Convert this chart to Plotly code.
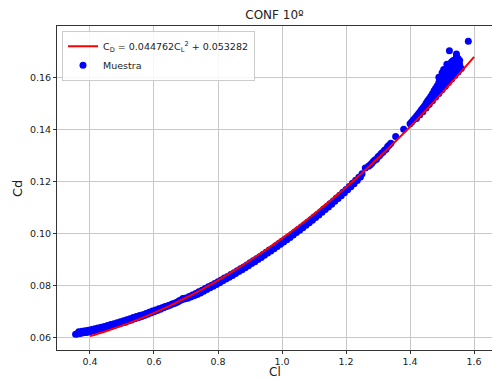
import plotly.graph_objects as go

# ---- data ----
# fitted curve (Cl, Cd)
fit_cl = [0.40, 0.45, 0.50, 0.55, 0.60, 0.65, 0.70, 0.75, 0.80, 0.85, 0.90, 0.95,
          1.00, 1.05, 1.10, 1.15, 1.20, 1.25, 1.30, 1.35, 1.40, 1.45, 1.50, 1.55, 1.60]
fit_cd = [0.060444, 0.062346, 0.064473, 0.066823, 0.069396, 0.072194, 0.075215, 0.078461,
          0.081930, 0.085623, 0.089539, 0.093680, 0.098044, 0.102632, 0.107444, 0.112480,
          0.117739, 0.123223, 0.128930, 0.134861, 0.141016, 0.147394, 0.153997, 0.160823,
          0.167873]

# sample points, main band
cl_a = [0.36, 0.37, 0.38, 0.39, 0.40, 0.41, 0.42, 0.43, 0.44, 0.45, 0.46, 0.47, 0.48, 0.49,
        0.50, 0.51, 0.52, 0.53, 0.54, 0.55, 0.56, 0.57, 0.58, 0.59, 0.60, 0.61, 0.62, 0.63,
        0.64, 0.65, 0.66, 0.67, 0.68, 0.69, 0.70, 0.71, 0.72, 0.73, 0.74, 0.75, 0.76, 0.77,
        0.78, 0.79, 0.80, 0.81, 0.82, 0.83, 0.84, 0.85, 0.86, 0.87, 0.88, 0.89, 0.90, 0.91,
        0.92, 0.93, 0.94, 0.95, 0.96, 0.97, 0.98, 0.99, 1.00, 1.01, 1.02, 1.03, 1.04, 1.05,
        1.06, 1.07, 1.08, 1.09, 1.10, 1.11, 1.12, 1.13, 1.14, 1.15, 1.16, 1.17, 1.18, 1.19,
        1.20, 1.21, 1.22, 1.23, 1.24, 1.25, 1.26, 1.27, 1.28, 1.29, 1.30, 1.31, 1.32, 1.33,
        1.34]
cd_a = [0.06128, 0.06151, 0.06175, 0.06189, 0.06214, 0.06241, 0.06278, 0.06306, 0.06335,
        0.06365, 0.06405, 0.06437, 0.06470, 0.06513, 0.06547, 0.06583, 0.06629, 0.06666,
        0.06714, 0.06752, 0.06792, 0.06843, 0.06884, 0.06936, 0.06980, 0.07034, 0.07079,
        0.07135, 0.07182, 0.07230, 0.07288, 0.07338, 0.07418, 0.07489, 0.07512, 0.07565,
        0.07629, 0.07684, 0.07749, 0.07806, 0.07874, 0.07942, 0.08002, 0.08072, 0.08133,
        0.08205, 0.08278, 0.08342, 0.08417, 0.08482, 0.08559, 0.08636, 0.08705, 0.08784,
        0.08864, 0.08945, 0.09017, 0.09100, 0.09183, 0.09268, 0.09354, 0.09430, 0.09517,
        0.09605, 0.09694, 0.09784, 0.09865, 0.09957, 0.10050, 0.10143, 0.10238, 0.10333,
        0.10429, 0.10526, 0.10624, 0.10723, 0.10823, 0.10934, 0.11036, 0.11138, 0.11241,
        0.11356, 0.11461, 0.11577, 0.11684, 0.11802, 0.11921, 0.12040, 0.12161, 0.12292,
        0.12515, 0.12578, 0.12682, 0.12817, 0.12943, 0.13070, 0.13198, 0.13336, 0.13466]

# sample points, second layer of the band
cl_b = [0.355, 0.365, 0.375, 0.385, 0.395, 0.405, 0.415, 0.425, 0.435, 0.445, 0.455, 0.465,
        0.475, 0.485, 0.495, 0.505, 0.515, 0.525, 0.535, 0.545, 0.555, 0.565, 0.575, 0.585,
        0.595, 0.605, 0.615, 0.625, 0.635, 0.645, 0.655, 0.665, 0.675, 0.685, 0.695, 0.705,
        0.715, 0.725, 0.735, 0.745, 0.755, 0.765, 0.775, 0.785, 0.795, 0.805, 0.815, 0.825,
        0.835, 0.845, 0.855, 0.865, 0.875, 0.885, 0.895, 0.905, 0.915, 0.925, 0.935, 0.945,
        0.955, 0.965, 0.975, 0.985, 0.995, 1.005, 1.015, 1.025, 1.035, 1.045, 1.055, 1.065,
        1.075, 1.085, 1.095, 1.105, 1.115, 1.125, 1.135, 1.145, 1.155, 1.165, 1.175, 1.185,
        1.195, 1.205, 1.215, 1.225, 1.235, 1.245, 1.275, 1.285, 1.295, 1.305, 1.315, 1.325,
        1.335]
cd_b = [0.06122, 0.06210, 0.06233, 0.06252, 0.06272, 0.06298, 0.06330, 0.06362, 0.06391,
        0.06420, 0.06455, 0.06491, 0.06524, 0.06562, 0.06600, 0.06635, 0.06676, 0.06718,
        0.06760, 0.06803, 0.06842, 0.06868, 0.06914, 0.06960, 0.07008, 0.07047, 0.07097,
        0.07137, 0.07189, 0.07226, 0.07269, 0.07313, 0.07368, 0.07434, 0.07470, 0.07499,
        0.07547, 0.07597, 0.07647, 0.07708, 0.07770, 0.07838, 0.07902, 0.07967, 0.08033,
        0.08099, 0.08172, 0.08240, 0.08310, 0.08380, 0.08451, 0.08528, 0.08601, 0.08675,
        0.08754, 0.08835, 0.08911, 0.08989, 0.09072, 0.09156, 0.09241, 0.09322, 0.09404,
        0.09491, 0.09580, 0.09669, 0.09755, 0.09841, 0.09934, 0.10027, 0.10121, 0.10216,
        0.10311, 0.10408, 0.10505, 0.10604, 0.10703, 0.10809, 0.10915, 0.11017, 0.11120,
        0.11229, 0.11339, 0.11449, 0.11561, 0.11673, 0.11792, 0.11911, 0.12031, 0.12167,
        0.12630, 0.12760, 0.12850, 0.12990, 0.13120, 0.13230, 0.13400]

# sample points, high-Cl region (scattered cluster)
cl_c = [1.355, 1.380, 1.400, 1.405, 1.410, 1.415, 1.420, 1.425, 1.430, 1.435, 1.440, 1.445,
        1.450, 1.455, 1.460, 1.465, 1.470, 1.475, 1.480, 1.485, 1.490, 1.495, 1.500, 1.505,
        1.510, 1.515, 1.520, 1.525, 1.530, 1.535, 1.540, 1.545, 1.550,
        1.420, 1.430, 1.440, 1.450, 1.460, 1.470, 1.480, 1.490, 1.500, 1.510, 1.520, 1.530,
        1.540, 1.550, 1.560,
        1.455, 1.465, 1.475, 1.485, 1.495, 1.505, 1.515, 1.525, 1.535, 1.545, 1.555,
        1.490, 1.500, 1.505, 1.515, 1.525, 1.535, 1.545, 1.550, 1.520, 1.530, 1.540, 1.555,
        1.523, 1.545, 1.582]
cd_c = [0.1372, 0.1400, 0.1421, 0.1428, 0.1436, 0.1443, 0.1450, 0.1458, 0.1466, 0.1474,
        0.1482, 0.1490, 0.1500, 0.1510, 0.1518, 0.1527, 0.1537, 0.1548, 0.1558, 0.1568,
        0.1580, 0.1592, 0.1603, 0.1615, 0.1626, 0.1636, 0.1645, 0.1652, 0.1660, 0.1665,
        0.1668, 0.1662, 0.1655,
        0.1442, 0.1455, 0.1468, 0.1482, 0.1496, 0.1510, 0.1524, 0.1538, 0.1552, 0.1566,
        0.1580, 0.1594, 0.1607, 0.1620, 0.1634,
        0.1494, 0.1512, 0.1530, 0.1548, 0.1566, 0.1582, 0.1598, 0.1612, 0.1626, 0.1640,
        0.1648,
        0.1600, 0.1618, 0.1630, 0.1650, 0.1640, 0.1648, 0.1680, 0.1672, 0.1628, 0.1618,
        0.1652, 0.1665,
        0.1702, 0.1690, 0.1739]

sample_cl = cl_a + cl_b + cl_c
sample_cd = cd_a + cd_b + cd_c

FONT = "DejaVu Sans"

fig = go.Figure()
fig.add_trace(go.Scatter(
    x=sample_cl, y=sample_cd, mode="markers", name="Muestra",
    marker=dict(color="#0000ff", size=7, line=dict(width=0)),
))
fig.add_trace(go.Scatter(
    x=fit_cl, y=fit_cd, mode="lines",
    name="C<sub>D</sub> = 0.044762C<sub>L</sub><sup>2</sup> + 0.053282",
    line=dict(color="#ff0000", width=2, shape="spline"),
))

fig.update_layout(
    width=492, height=381,
    margin=dict(l=57, r=0, t=26, b=31),
    paper_bgcolor="white", plot_bgcolor="white",
    font=dict(family=FONT, color="#222222", size=10),
    showlegend=True,
    legend=dict(
        x=0.0115, y=0.985, xanchor="left", yanchor="top",
        bgcolor="rgba(255,255,255,0.85)", bordercolor="#cccccc", borderwidth=1,
        font=dict(family=FONT, size=9.5, color="#222222"),
        traceorder="reversed", itemwidth=30, tracegroupgap=0,
    ),
    title=dict(text="CONF 10º", x=274.5 / 492, xref="container", xanchor="center",
               y=1 - 15 / 381, yref="container", yanchor="middle",
               font=dict(family=FONT, size=12, color="#222222")),
    xaxis=dict(
        range=[0.297, 1.656], tick0=0, dtick=0.2, tickformat=".1f",
        showgrid=True, gridcolor="#c8c8c8", gridwidth=1,
        showline=True, linecolor="#333333", linewidth=1, mirror=True,
        ticks="outside", ticklen=3, tickcolor="#333333",
        tickfont=dict(family=FONT, size=9.5, color="#222222"),
        zeroline=False, automargin=False,
    ),
    yaxis=dict(
        range=[0.05512, 0.17974], tick0=0, dtick=0.02, tickformat=".2f",
        showgrid=True, gridcolor="#c8c8c8", gridwidth=1,
        showline=True, linecolor="#333333", linewidth=1, mirror=False,
        ticks="outside", ticklen=3, tickcolor="#333333",
        tickfont=dict(family=FONT, size=9.5, color="#222222"),
        zeroline=False, automargin=False,
    ),
    annotations=[
        dict(text="Cl", xref="paper", yref="paper", x=0.502, y=-31 / 324,
             xanchor="center", yanchor="bottom", showarrow=False,
             font=dict(family=FONT, size=12, color="#222222")),
        dict(text="Cd", xref="paper", yref="paper", x=-0.092, y=0.5,
             xanchor="center", yanchor="middle", showarrow=False, textangle=-90,
             font=dict(family=FONT, size=13, color="#222222")),
    ],
)

fig.write_html("out.html")
